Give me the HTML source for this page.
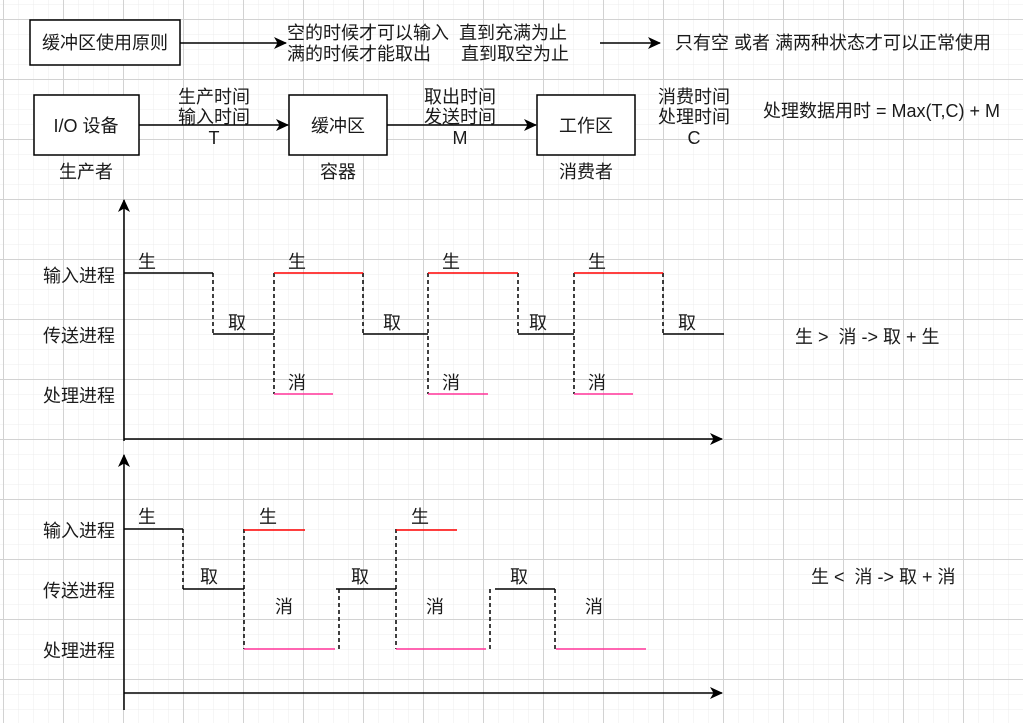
<!DOCTYPE html>
<html><head><meta charset="utf-8"><style>
body{margin:0;width:1023px;height:723px;overflow:hidden;background:#fff}
svg{display:block}
text{font-family:"Liberation Sans","Noto Sans CJK SC",sans-serif;font-size:18px;fill:#1a1a1a}
</style></head><body>
<svg width="1023" height="723" xmlns="http://www.w3.org/2000/svg">
<defs>
<pattern id="mn" width="15" height="15" patternUnits="userSpaceOnUse" x="3" y="4"><path d="M0 0H15M0 0V15" stroke="#ececec" stroke-width="1" fill="none"/></pattern>
<pattern id="mj" width="60" height="60" patternUnits="userSpaceOnUse" x="3" y="19"><path d="M0 0.5H60M0.5 0V60" stroke="#d2d2d2" stroke-width="1" fill="none"/></pattern>
<marker id="ar" markerWidth="13" markerHeight="12" refX="12" refY="6" orient="auto" markerUnits="userSpaceOnUse"><path d="M0 0L13 6L0 12L3.5 6Z" fill="#000"/></marker>
</defs>
<rect width="1023" height="723" fill="url(#mn)"/>
<rect width="1023" height="723" fill="url(#mj)"/>
<g stroke="#000" stroke-width="1.5" fill="#fff">
<rect x="30" y="20" width="150" height="45"/>
<rect x="34" y="95" width="105" height="60"/>
<rect x="289" y="95" width="98" height="60"/>
<rect x="537" y="95" width="98" height="60"/>
</g>
<g stroke="#000" stroke-width="1.5" fill="none" marker-end="url(#ar)">
<line x1="180" y1="43" x2="286" y2="43"/>
<line x1="600" y1="43" x2="660" y2="43"/>
<line x1="139" y1="125" x2="288" y2="125"/>
<line x1="387" y1="125" x2="536" y2="125"/>
<line x1="124" y1="441" x2="124" y2="200"/>
<line x1="124" y1="439" x2="722" y2="439"/>
<line x1="124" y1="710" x2="124" y2="455"/>
<line x1="124" y1="693" x2="722" y2="693"/>
</g>
<text x="105" y="49" text-anchor="middle">缓冲区使用原则</text>
<text x="287" y="39">空的时候才可以输入</text><text x="459" y="39">直到充满为止</text>
<text x="287" y="60">满的时候才能取出</text><text x="461" y="60">直到取空为止</text>
<text x="675" y="49">只有空 或者 满两种状态才可以正常使用</text>
<text x="86" y="132" text-anchor="middle">I/O 设备</text>
<text x="86" y="178" text-anchor="middle">生产者</text>
<text x="338" y="132" text-anchor="middle">缓冲区</text>
<text x="338" y="178" text-anchor="middle">容器</text>
<text x="586" y="132" text-anchor="middle">工作区</text>
<text x="586" y="178" text-anchor="middle">消费者</text>
<text x="214" y="103" text-anchor="middle">生产时间</text>
<text x="214" y="123" text-anchor="middle">输入时间</text>
<text x="214" y="144" text-anchor="middle">T</text>
<text x="460" y="103" text-anchor="middle">取出时间</text>
<text x="460" y="123" text-anchor="middle">发送时间</text>
<text x="460" y="144" text-anchor="middle">M</text>
<text x="694" y="103" text-anchor="middle">消费时间</text>
<text x="694" y="123" text-anchor="middle">处理时间</text>
<text x="694" y="144" text-anchor="middle">C</text>
<text x="763" y="117">处理数据用时 = Max(T,C) + M</text>
<g text-anchor="end">
<text x="115" y="282">输入进程</text><text x="115" y="342">传送进程</text><text x="115" y="402">处理进程</text>
<text x="115" y="537">输入进程</text><text x="115" y="597">传送进程</text><text x="115" y="657">处理进程</text>
</g>
<g stroke="#000" stroke-width="1.5" fill="none">
<path d="M124 273H213M213 334H274M363 334H428M518 334H574M663 334H724"/>
<path d="M124 529H183M183 589H244M336 589H396M495 589H555"/>
</g>
<g stroke="#000" stroke-width="1.5" fill="none" stroke-dasharray="4,3">
<path d="M213 273V334M274 273V394M363 273V334M428 273V394M518 273V334M574 273V394M663 273V334"/>
<path d="M183 529V589M244 529V649M339 649V589M396 529V649M490 649V589M555 589V649"/>
</g>
<g stroke="#ff0000" stroke-width="1.5"><path d="M274 273H363M428 273H518M574 273H663M244 530H305M396 530H457"/></g>
<g stroke="#ff3399" stroke-width="1.5"><path d="M274 394H333M428 394H488M574 394H633M244 649H335M396 649H486M556 649H646"/></g>
<text x="138" y="268">生</text><text x="288" y="268">生</text><text x="442" y="268">生</text><text x="588" y="268">生</text>
<text x="228" y="329">取</text><text x="383" y="329">取</text><text x="529" y="329">取</text><text x="678" y="329">取</text>
<text x="288" y="389">消</text><text x="442" y="389">消</text><text x="588" y="389">消</text>
<text x="795" y="343">生 &gt;&#160;&#160;消 -&gt; 取 + 生</text>
<text x="138" y="523">生</text><text x="259" y="523">生</text><text x="411" y="523">生</text>
<text x="200" y="583">取</text><text x="351" y="583">取</text><text x="510" y="583">取</text>
<text x="275" y="613">消</text><text x="426" y="613">消</text><text x="585" y="613">消</text>
<text x="811" y="583">生 &lt;&#160;&#160;消 -&gt; 取 + 消</text>
</svg>
</body></html>
